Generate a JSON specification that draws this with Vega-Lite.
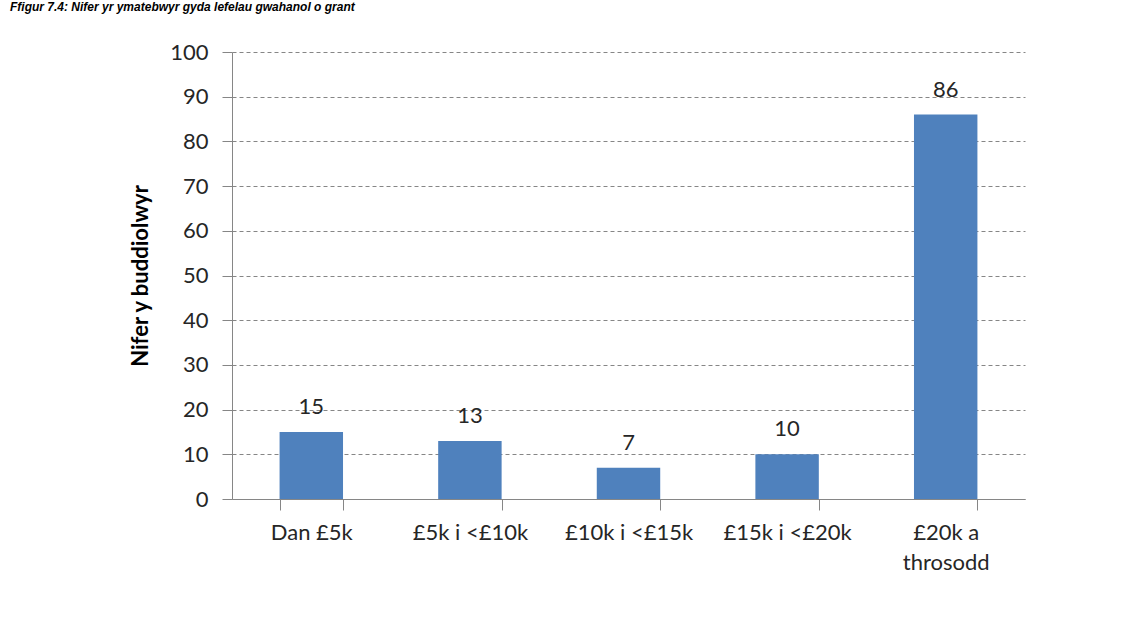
{
  "$schema": "https://vega.github.io/schema/vega-lite/v6.json",
  "autosize": "none",
  "width": 793,
  "height": 447,
  "padding": {"left": 232, "top": 52, "right": 101, "bottom": 119},
  "background": "white",
  "title": {
    "text": "Ffigur 7.4: Nifer yr ymatebwyr gyda lefelau gwahanol o grant",
    "anchor": "start",
    "frame": "group",
    "dx": -222,
    "offset": 27,
    "font": "Liberation Sans",
    "fontSize": 12,
    "fontWeight": "bold",
    "fontStyle": "italic",
    "color": "black"
  },
  "data": {
    "values": [
      {"band": "Dan £5k", "n": 15},
      {"band": "£5k i <£10k", "n": 13},
      {"band": "£10k i <£15k", "n": 7},
      {"band": "£15k i <£20k", "n": 10},
      {"band": "£20k a throsodd", "n": 86}
    ]
  },
  "config": {
    "view": {"stroke": null},
    "font": "Lato",
    "axis": {
      "domainColor": "#868686",
      "tickColor": "#868686",
      "labelColor": "#262626",
      "labelFont": "Lato",
      "titleFont": "Lato"
    }
  },
  "encoding": {
    "x": {
      "field": "band",
      "type": "nominal",
      "sort": null,
      "scale": {"paddingInner": 0.6, "paddingOuter": 0.3},
      "axis": {
        "title": null,
        "labelAngle": 0,
        "labelFontSize": 22,
        "tickBand": "extent",
        "tickSize": 11,
        "labelPadding": 12,
        "labelLineHeight": 30,
        "labelExpr": "datum.label == '£20k a throsodd' ? ['£20k a', 'throsodd'] : datum.label"
      }
    },
    "y": {
      "field": "n",
      "type": "quantitative",
      "scale": {"domain": [0, 100]},
      "axis": {
        "title": "Nifer y buddiolwyr",
        "titleFontSize": 22,
        "titleFontWeight": "bold",
        "titleColor": "black",
        "titlePadding": 17,
        "values": [0, 10, 20, 30, 40, 50, 60, 70, 80, 90, 100],
        "labelFontSize": 22,
        "tickSize": 10,
        "labelPadding": 14,
        "grid": true,
        "gridColor": "#868686",
        "gridDash": [4, 3],
        "gridWidth": 1
      }
    }
  },
  "layer": [
    {"mark": {"type": "bar", "color": "#4F81BD"}},
    {
      "mark": {"type": "text", "baseline": "bottom", "dy": -13, "fontSize": 22, "color": "#262626", "font": "Lato"},
      "encoding": {"text": {"field": "n", "type": "quantitative"}}
    }
  ]
}
